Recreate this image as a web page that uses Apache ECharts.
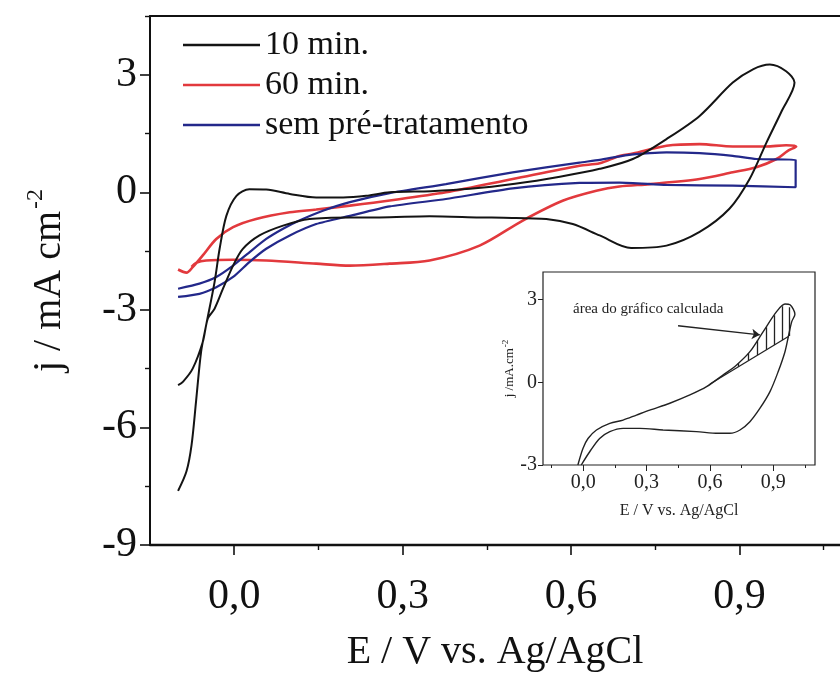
<!DOCTYPE html>
<html>
<head>
<meta charset="utf-8">
<script src="https://cdn.jsdelivr.net/npm/echarts@6/dist/echarts.min.js"></script>
<style>
  html, body { margin: 0; padding: 0; background: #fff; }
  #chart { width: 840px; height: 677px; }
</style>
</head>
<body>
<div id="chart"></div>
<script>
// Cyclic voltammograms: potential E (V vs. Ag/AgCl) and current density j (mA cm^-2)

// 10 min
const E10 = [-0.100, -0.085, -0.076, -0.068, -0.059, -0.050, -0.035, -0.026, -0.014, 0.004, 0.027, 0.057, 0.099, 0.146, 0.194, 0.235, 0.277, 0.350, 0.420, 0.500, 0.580, 0.651, 0.710, 0.770, 0.829, 0.888, 0.924, 0.954, 0.983, 0.998, 0.975, 0.948, 0.918, 0.882, 0.829, 0.770, 0.707, 0.651, 0.603, 0.556, 0.480, 0.437, 0.348, 0.259, 0.206, 0.134, 0.087, 0.045, 0.015, -0.002, -0.020, -0.035, -0.047, -0.056, -0.074, -0.091, -0.100];
const J10 = [-7.62, -7.12, -6.45, -5.34, -4.07, -3.39, -2.29, -1.44, -0.60, -0.09, 0.08, 0.07, -0.04, -0.13, -0.13, -0.09, 0.00, 0.03, 0.09, 0.22, 0.40, 0.60, 0.85, 1.36, 1.95, 2.80, 3.14, 3.26, 3.09, 2.80, 2.07, 1.27, 0.34, -0.42, -1.01, -1.36, -1.42, -1.10, -0.81, -0.68, -0.65, -0.64, -0.61, -0.64, -0.64, -0.68, -0.85, -1.10, -1.45, -1.87, -2.46, -2.97, -3.22, -3.82, -4.50, -4.83, -4.92];

// 60 min
const E60 = [-0.100, -0.085, -0.074, -0.056, -0.032, -0.002, 0.039, 0.099, 0.146, 0.206, 0.277, 0.377, 0.496, 0.615, 0.651, 0.686, 0.710, 0.770, 0.829, 0.888, 0.948, 0.983, 1.001, 0.986, 0.966, 0.930, 0.888, 0.829, 0.740, 0.686, 0.645, 0.586, 0.514, 0.437, 0.348, 0.277, 0.206, 0.146, 0.057, -0.002, -0.050, -0.068, -0.076];
const J60 = [-1.97, -2.05, -1.91, -1.61, -1.19, -0.89, -0.68, -0.51, -0.44, -0.34, -0.21, 0.00, 0.34, 0.68, 0.74, 0.93, 0.99, 1.19, 1.23, 1.17, 1.17, 1.20, 1.17, 1.06, 0.85, 0.64, 0.51, 0.34, 0.21, 0.15, 0.04, -0.21, -0.72, -1.36, -1.74, -1.82, -1.87, -1.82, -1.74, -1.72, -1.74, -1.80, -1.90];

// sem pré-tratamento
const ESP = [-0.100, -0.062, -0.032, -0.002, 0.027, 0.057, 0.087, 0.116, 0.158, 0.206, 0.277, 0.377, 0.496, 0.615, 0.651, 0.700, 0.740, 0.770, 0.829, 0.888, 0.930, 1.000, 1.000, 0.888, 0.770, 0.686, 0.615, 0.496, 0.377, 0.277, 0.206, 0.146, 0.099, 0.057, 0.027, -0.002, -0.032, -0.062, -0.100];
const JSP = [-2.46, -2.33, -2.16, -1.87, -1.53, -1.19, -0.93, -0.72, -0.47, -0.25, -0.02, 0.21, 0.51, 0.76, 0.83, 0.95, 1.00, 1.02, 1.00, 0.93, 0.85, 0.83, 0.13, 0.17, 0.19, 0.25, 0.24, 0.10, -0.17, -0.36, -0.60, -0.81, -1.10, -1.44, -1.78, -2.16, -2.42, -2.59, -2.67];

// Inset voltammogram
const EIN = [-0.025, -0.001, 0.023, 0.063, 0.126, 0.189, 0.252, 0.315, 0.410, 0.505, 0.584, 0.663, 0.726, 0.789, 0.852, 0.916, 0.955, 0.979, 1.002, 0.987, 0.971, 0.955, 0.923, 0.884, 0.836, 0.789, 0.742, 0.694, 0.639, 0.536, 0.378, 0.268, 0.189, 0.126, 0.078, 0.031, -0.009];
const JIN = [-3.00, -2.40, -2.04, -1.73, -1.49, -1.37, -1.19, -1.01, -0.76, -0.46, -0.16, 0.27, 0.63, 1.11, 1.84, 2.57, 2.84, 2.81, 2.47, 2.20, 1.66, 1.11, 0.39, -0.34, -0.95, -1.43, -1.73, -1.85, -1.85, -1.79, -1.73, -1.67, -1.67, -1.79, -2.04, -2.52, -3.00];

// Baseline under the oxidation peak of the inset
const E_BASE = [0.600, 0.971];
const J_BASE = [-0.06, 1.66];

// Hatching of the integrated area: potential, upper and lower current
const E_HATCH = [0.734, 0.781, 0.826, 0.868, 0.904, 0.942, 0.976];
const J_HATCH_TOP = [0.70, 1.05, 1.52, 2.00, 2.43, 2.76, 2.72];
const J_HATCH_BOT = [0.56, 0.78, 0.99, 1.18, 1.35, 1.53, 1.68];

// Arrow pointing to the hatched area
const E_ARROW = [0.449, 0.836];
const J_ARROW = [2.05, 1.72];

// Tick values
const X_MAJOR = [0, 0.3, 0.6, 0.9];
const X_MINOR = [0.15, 0.45, 0.75, 1.05];
const Y_MAJOR = [-9, -6, -3, 0, 3];
const Y_MINOR = [-7.5, -4.5, -1.5, 1.5, 4.5];
const XI_MINOR = [-0.15, 0.15, 0.45, 0.75, 1.05];
const YI_MAJOR = [-3, 0, 3];
const YI_MINOR = [-1.5, 1.5];

const SERIES_NAMES = ['10 min.', '60 min.', 'sem pré-tratamento'];
const COLORS = ['#141414', '#e2393d', '#23288a'];

const FONT = 'Liberation Serif';
const zip = (a, b) => a.map((v, i) => [v, b[i]]);
const comma = v => v.toFixed(1).replace('.', ',');

const chart = echarts.init(document.getElementById('chart'), null, { renderer: 'canvas' });

const axisLineStyle = w => ({ show: true, onZero: false, lineStyle: { color: '#111', width: w } });
const noLine = { show: false, onZero: false };

const option = {
  backgroundColor: '#fff',
  animation: false,
  textStyle: { fontFamily: FONT },
  grid: [
    { left: 150, right: 0, top: 16, bottom: 130 },
    { left: 543, right: 25, top: 272, bottom: 212, show: true, backgroundColor: '#fff', borderColor: '#222', borderWidth: 1.2, z: 5 }
  ],
  legend: {
    orient: 'vertical', left: 183, top: 28, padding: 0,
    icon: 'rect', itemWidth: 77, itemHeight: 2.4, itemGap: 6,
    data: SERIES_NAMES,
    textStyle: { fontFamily: FONT, fontSize: 34, color: '#111', lineHeight: 34 }
  },
  xAxis: [
    { gridIndex: 0, type: 'value', min: -0.15, max: 1.079, position: 'bottom',
      axisLine: axisLineStyle(2.4), splitLine: { show: false },
      axisTick: { show: true, customValues: X_MAJOR, length: 10, lineStyle: { color: '#111', width: 1.6 } },
      axisLabel: { customValues: X_MAJOR, formatter: comma, fontFamily: FONT, fontSize: 42, color: '#111', margin: 31 },
      name: 'E / V vs. Ag/AgCl', nameLocation: 'middle', nameGap: 87,
      nameTextStyle: { fontFamily: FONT, fontSize: 40, color: '#111' } },
    { gridIndex: 0, type: 'value', min: -0.15, max: 1.079, position: 'bottom',
      axisLine: noLine, splitLine: { show: false }, axisLabel: { show: false },
      axisTick: { show: true, customValues: X_MINOR, length: 5, lineStyle: { color: '#111', width: 1.4 } } },
    { gridIndex: 0, type: 'value', min: -0.15, max: 1.079, position: 'top',
      axisLine: axisLineStyle(2), splitLine: { show: false }, axisLabel: { show: false }, axisTick: { show: false } },
    { gridIndex: 1, type: 'value', min: -0.19, max: 1.097, position: 'bottom',
      axisLine: noLine, splitLine: { show: false },
      axisTick: { show: true, customValues: X_MAJOR, length: 6, lineStyle: { color: '#222', width: 1 } },
      axisLabel: { customValues: X_MAJOR, formatter: comma, fontFamily: FONT, fontSize: 20, color: '#222', margin: 8 },
      name: 'E / V vs. Ag/AgCl', nameLocation: 'middle', nameGap: 38,
      nameTextStyle: { fontFamily: FONT, fontSize: 16, color: '#222' } },
    { gridIndex: 1, type: 'value', min: -0.19, max: 1.097, position: 'bottom',
      axisLine: noLine, splitLine: { show: false }, axisLabel: { show: false },
      axisTick: { show: true, customValues: XI_MINOR, length: 3, lineStyle: { color: '#222', width: 1 } } }
  ],
  yAxis: [
    { gridIndex: 0, type: 'value', min: -9, max: 4.5, position: 'left',
      axisLine: axisLineStyle(2), splitLine: { show: false },
      axisTick: { show: true, customValues: Y_MAJOR, length: 10, lineStyle: { color: '#111', width: 1.6 } },
      axisLabel: { customValues: Y_MAJOR, fontFamily: FONT, fontSize: 42, color: '#111', margin: 13 },
      name: 'j / mA cm{sup|-2}', nameLocation: 'middle', nameGap: 76,
      nameTextStyle: { fontFamily: FONT, fontSize: 40, color: '#111',
        rich: { sup: { fontFamily: FONT, fontSize: 24, color: '#111', padding: [0, 0, 26, 2] } } } },
    { gridIndex: 0, type: 'value', min: -9, max: 4.5, position: 'left',
      axisLine: noLine, splitLine: { show: false }, axisLabel: { show: false },
      axisTick: { show: true, customValues: Y_MINOR, length: 5, lineStyle: { color: '#111', width: 1.4 } } },
    { gridIndex: 1, type: 'value', min: -3, max: 4.0, position: 'left',
      axisLine: noLine, splitLine: { show: false },
      axisTick: { show: true, customValues: YI_MAJOR, length: 5, lineStyle: { color: '#222', width: 1 } },
      axisLabel: { customValues: YI_MAJOR, fontFamily: FONT, fontSize: 20, color: '#222', margin: 6 },
      name: 'j /mA.cm{sup|-2}', nameLocation: 'middle', nameGap: 22,
      nameTextStyle: { fontFamily: FONT, fontSize: 13, color: '#222',
        rich: { sup: { fontFamily: FONT, fontSize: 9, color: '#222', padding: [0, 0, 8, 1] } } } },
    { gridIndex: 1, type: 'value', min: -3, max: 4.0, position: 'left',
      axisLine: noLine, splitLine: { show: false }, axisLabel: { show: false },
      axisTick: { show: true, customValues: YI_MINOR, length: 3, inside: true, lineStyle: { color: '#222', width: 1 } } }
  ],
  graphic: [
    { type: 'text', left: 573, top: 302, z: 20,
      style: { text: 'área do gráfico calculada', font: '15px "Liberation Serif"', fill: '#222' } }
  ],
  series: [
    { name: SERIES_NAMES[0], type: 'line', xAxisIndex: 0, yAxisIndex: 0, data: zip(E10, J10),
      symbol: 'none', smooth: 0.3, lineStyle: { color: COLORS[0], width: 2 }, itemStyle: { color: COLORS[0] }, z: 3 },
    { name: SERIES_NAMES[1], type: 'line', xAxisIndex: 0, yAxisIndex: 0, data: zip(E60, J60),
      symbol: 'none', smooth: 0.3, lineStyle: { color: COLORS[1], width: 2.6 }, itemStyle: { color: COLORS[1] }, z: 2 },
    { name: SERIES_NAMES[2], type: 'line', xAxisIndex: 0, yAxisIndex: 0, data: zip(ESP, JSP),
      symbol: 'none', smooth: 0.2, lineStyle: { color: COLORS[2], width: 2.2 }, itemStyle: { color: COLORS[2] }, z: 2 },
    { type: 'line', xAxisIndex: 3, yAxisIndex: 2, data: zip(EIN, JIN),
      symbol: 'none', smooth: 0.3, lineStyle: { color: '#222', width: 1.4 }, z: 6 },
    { type: 'line', xAxisIndex: 3, yAxisIndex: 2, data: zip(E_BASE, J_BASE),
      symbol: 'none', lineStyle: { color: '#222', width: 1.3 }, z: 6 },
    { type: 'lines', coordinateSystem: 'cartesian2d', xAxisIndex: 3, yAxisIndex: 2, z: 6,
      lineStyle: { color: '#222', width: 1.3, opacity: 1 },
      data: E_HATCH.map((e, i) => ({ coords: [[e, J_HATCH_TOP[i]], [e, J_HATCH_BOT[i]]] })) },
    { type: 'lines', coordinateSystem: 'cartesian2d', xAxisIndex: 3, yAxisIndex: 2, z: 6,
      symbol: ['none', 'arrow'], symbolSize: 8,
      lineStyle: { color: '#222', width: 1.3, opacity: 1 },
      data: [{ coords: zip(E_ARROW, J_ARROW) }] }
  ]
};

chart.setOption(option);
</script>
</body>
</html>
